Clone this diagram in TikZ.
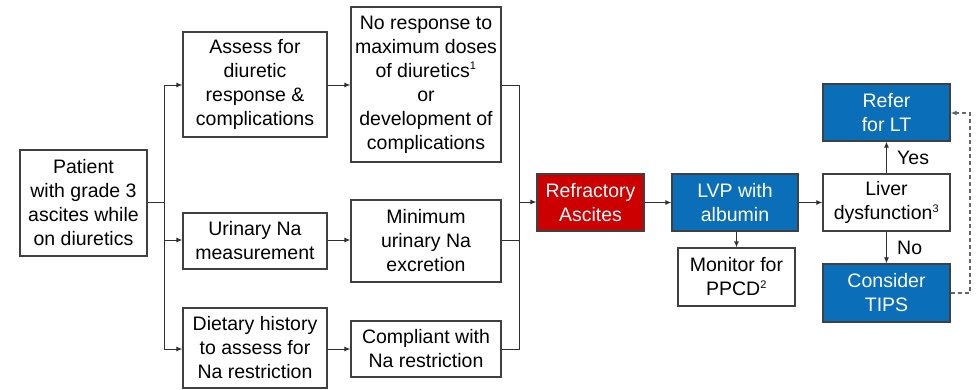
\documentclass[tikz,border=0pt]{standalone}
\usepackage{fontspec}
\setmainfont{Liberation Sans}
\usetikzlibrary{arrows.meta}
\definecolor{boxline}{HTML}{404040}
\definecolor{flowblue}{HTML}{0B6EB8}
\definecolor{flowred}{HTML}{CC0000}
\definecolor{linkgray}{HTML}{303030}
\newcommand{\sfn}[1]{\textsuperscript{\fontsize{11}{11}\selectfont #1}}
\tikzset{
  box/.style={draw=boxline, line width=1.3pt, fill=white, align=center, inner sep=0pt,
    font=\fontsize{19.5}{24}\selectfont, text=black},
  bluebox/.style={box, fill=flowblue, text=white},
  redbox/.style={box, fill=flowred, text=white},
  link/.style={draw=linkgray, line width=1pt},
  arr/.style={link, -{Latex[length=6pt,width=5pt]}},
  dashlink/.style={draw=gray!80!black, line width=1.2pt, dash pattern=on 4pt off 3pt, -{Latex[length=6pt,width=5pt]}},
  lbl/.style={font=\fontsize{19.5}{24}\selectfont, anchor=west, inner sep=0pt}
}
\begin{document}
\begin{tikzpicture}[x=1pt, y=-1pt]
\useasboundingbox (0,0) rectangle (977,389);
\fill[white] (0,0) rectangle (977,389);

% left column
\node[box, minimum width=127pt, minimum height=106pt] (patient) at (83.5,203)
  {Patient\\with grade 3\\ascites while\\on diuretics};

% assessment column
\node[box, minimum width=144pt, minimum height=105pt] (assess) at (255,84.5)
  {Assess for\\diuretic\\response \&\\complications};
\node[box, minimum width=144pt, minimum height=56pt] (urinary) at (255,241)
  {Urinary Na\\measurement};
\node[box, minimum width=144pt, minimum height=80pt] (dietary) at (255,348)
  {Dietary history\\to assess for\\Na restriction};

% findings column
\node[box, minimum width=150pt, minimum height=155pt] (noresp) at (426,84.5)
  {No response to\\maximum doses\\of diuretics\sfn{1}\\or\\development of\\complications};
\node[box, minimum width=150pt, minimum height=82pt] (minimum) at (426,241)
  {Minimum\\urinary Na\\excretion};
\node[box, minimum width=150pt, minimum height=56pt] (compliant) at (426,349)
  {Compliant with\\Na restriction};

% management
\node[redbox, minimum width=107pt, minimum height=57pt] (refractory) at (590.5,202.5)
  {Refractory\\Ascites};
\node[bluebox, minimum width=126pt, minimum height=57pt] (lvp) at (735,202.5)
  {LVP with\\albumin};
\node[box, minimum width=117pt, minimum height=58pt] (monitor) at (736.5,277)
  {Monitor for\\PPCD\sfn{2}};
\node[box, minimum width=127pt, minimum height=57pt] (liver) at (886.5,202.5)
  {Liver\\dysfunction\sfn{3}};
\node[bluebox, minimum width=127pt, minimum height=57pt] (refer) at (886.5,112.5)
  {Refer\\for LT};
\node[bluebox, minimum width=127pt, minimum height=58pt] (consider) at (886.5,293)
  {Consider\\TIPS};

% branch points
\coordinate (trunk) at (164,202);
\coordinate (collect) at (519,202);
\coordinate (loop) at (970,113);

% fan-out from patient
\draw[link] (patient.east |- trunk) -- (trunk);
\draw[link] (trunk |- 0,85) -- (trunk |- 0,349);
\draw[arr] (trunk |- 0,85) -- (assess.west |- 0,85);
\draw[arr] (trunk |- 0,240) -- (urinary.west |- 0,240);
\draw[arr] (trunk |- 0,349) -- (dietary.west |- 0,349);

% findings
\draw[arr] (assess.east |- 0,85) -- (noresp.west |- 0,85);
\draw[arr] (urinary.east |- 0,240) -- (minimum.west |- 0,240);
\draw[arr] (dietary.east |- 0,349) -- (compliant.west |- 0,349);

% collect into refractory ascites
\draw[link] (noresp.east |- 0,85) -- (collect |- 0,85) -- (collect |- 0,349) -- (compliant.east |- 0,349);
\draw[link] (minimum.east |- 0,240) -- (collect |- 0,240);
\draw[arr] (collect) -- (refractory.west |- collect);

% management chain
\draw[arr] (refractory.east) -- (lvp.west);
\draw[arr] (lvp.south -| monitor.north) -- (monitor.north);
\draw[arr] (lvp.east) -- (liver.west);
\draw[arr] (liver.north) -- (refer.south);
\draw[arr] (liver.south) -- (consider.north);
\node[lbl] (yes) at (897,158) {Yes};
\node[lbl] (no) at (897,248) {No};

% TIPS feedback to transplant referral
\draw[dashlink] (consider.east) -- (consider.east -| loop) -- (loop) -- (refer.east |- loop);
\end{tikzpicture}
\end{document}
